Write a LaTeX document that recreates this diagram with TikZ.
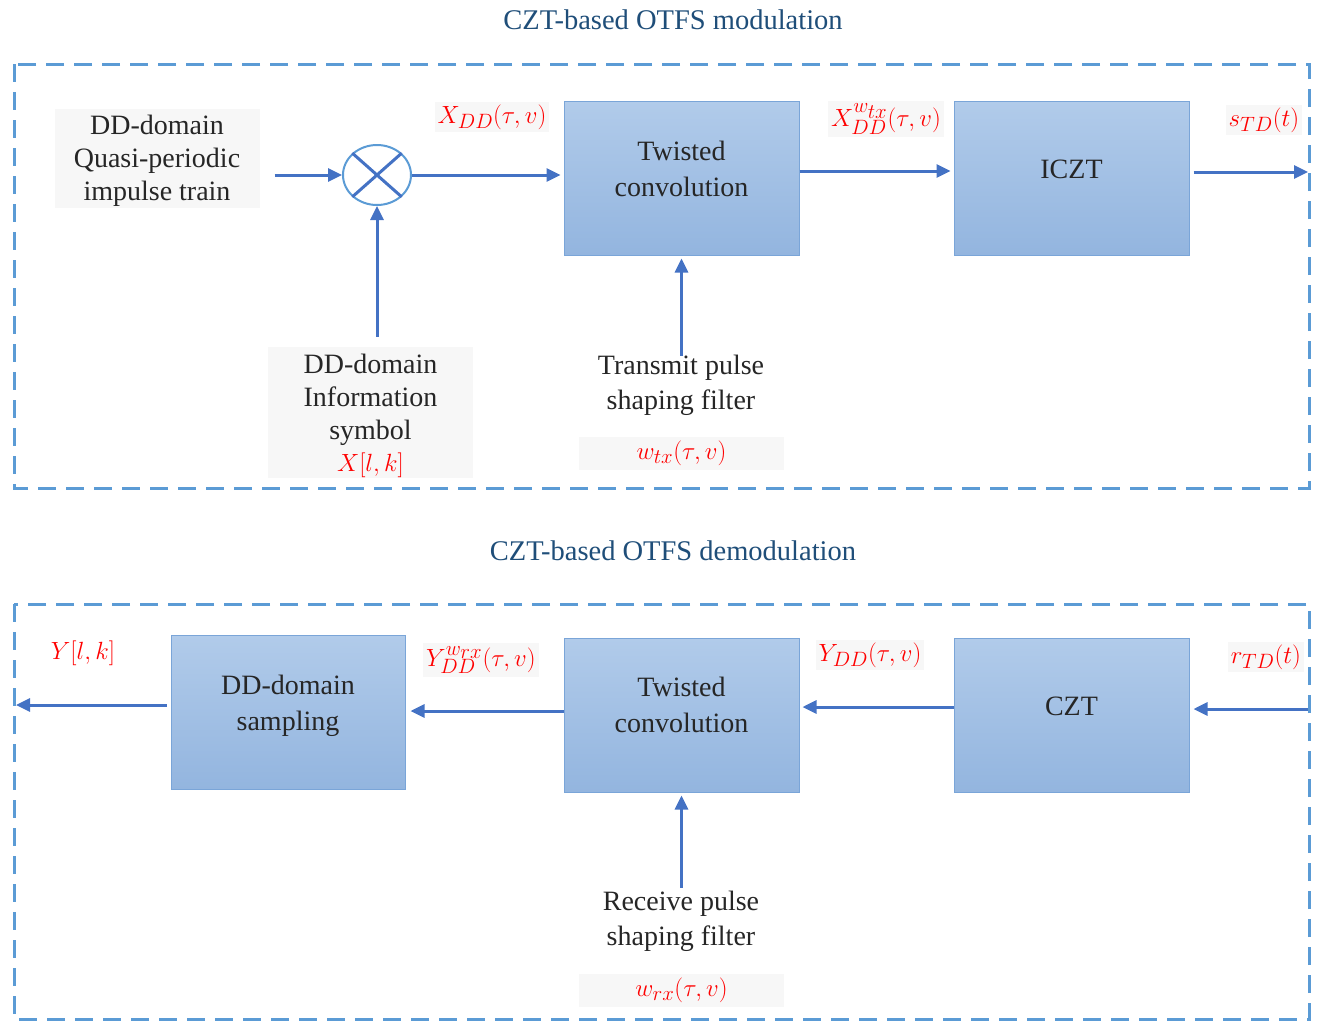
\documentclass[tikz,border=0pt]{standalone}
\usepackage{fontspec}
\setmainfont{Liberation Serif}
\newfontfamily\tnr{Liberation Serif}
\usetikzlibrary{arrows.meta,shapes.geometric}
\definecolor{dashblue}{HTML}{5B9BD5}
\definecolor{arrowblue}{HTML}{4472C4}
\definecolor{titleblue}{HTML}{1F4E79}
\definecolor{boxtop}{HTML}{B1CBEA}
\definecolor{boxbot}{HTML}{93B5DF}
\definecolor{boxline}{HTML}{7AA5D8}
\definecolor{softgray}{HTML}{F7F7F7}
\definecolor{lblred}{HTML}{FF0000}
\definecolor{txtdark}{HTML}{262626}
\begin{document}
\begin{tikzpicture}[x=1pt,y=-1pt,
  font=\tnr\fontsize{28}{33}\selectfont,
  blockbox/.style={draw=boxline, line width=1pt, top color=boxtop, bottom color=boxbot,
    minimum width=235pt, minimum height=154pt, inner sep=0pt},
  blocktext/.style={inner sep=0pt, align=center, text=txtdark, font=\tnr\fontsize{28}{36}\selectfont},
  graybox/.style={fill=softgray, inner sep=0pt, align=center, text=txtdark},
  plaintext/.style={inner sep=0pt, align=center, text=txtdark, font=\tnr\fontsize{28}{35}\selectfont},
  lbl/.style={fill=softgray, inner sep=3pt, text=lblred, font=\tnr\fontsize{30}{33}\selectfont},
  conn/.style={draw=arrowblue, line width=3pt, -{Triangle[length=14pt,width=13pt]}},
  frame/.style={draw=dashblue, line width=3pt, dash pattern=on 18pt off 10pt},
  ttl/.style={text=titleblue, font=\tnr\fontsize{28.5}{30}\selectfont}]
\useasboundingbox (0,0) rectangle (1323,1021);

% ---------- modulation ----------
\node[ttl] (t1) at (673,20) {CZT-based OTFS modulation};
\draw[frame] (14,64) rectangle (1309,488);

\node[graybox, minimum width=205pt, minimum height=99pt] (qp) at (157,158) {};
\node[graybox, fill=none] (qpt) at (157,161) {DD-domain\\Quasi-periodic\\impulse train};
\node[ellipse, draw=dashblue, line width=2pt, minimum width=68pt, minimum height=60pt, inner sep=0pt] (mult) at (377,175) {};
\draw[arrowblue, line width=3pt] (mult.north west) -- (mult.south east);
\draw[arrowblue, line width=3pt] (mult.north east) -- (mult.south west);

\node[blockbox] (tc1) at (681.5,178) {};
\node[blocktext] (tc1t) at (681.5,169) {Twisted\\convolution};
\node[blockbox] (iczt) at (1071.5,178) {};
\node[blocktext] (icztt) at (1071.5,169) {ICZT};

\node[graybox, minimum width=205pt, minimum height=131pt] (info) at (370.5,412.5) {};
\node[graybox, fill=none] (infot) at (370.5,416)
  {DD-domain\\Information\\symbol\\[-1pt]\textcolor{lblred}{\fontsize{30}{33}\selectfont$X[l,k]$}};
\node[plaintext] (tx) at (681,385) {Transmit pulse\\shaping filter};
\node[graybox, minimum width=205pt, minimum height=33pt, text=lblred, font=\tnr\fontsize{30}{33}\selectfont] (wtx) at (681.5,453.5) {$w_{tx}(\tau,v)$};

\coordinate (outR) at (1308,172);

\draw[conn] ([xshift=15pt]qp.east |- mult.west) -- (mult.west);
\draw[conn, shorten >=3pt] (mult.east) -- (mult.east -| tc1.west);
\draw[conn] ([yshift=10pt]mult.south |- info.north) -- (mult.south);
\draw[conn, shorten >=3pt] ([yshift=-1pt]tc1.south |- tx.north) -- (tc1.south);
\draw[conn, shorten >=3pt] ([yshift=7pt]tc1.east) -- ([yshift=7pt]iczt.west);
\draw[conn, shorten <=4pt] ([yshift=6pt]iczt.east) -- (outR);

\node[lbl] (l1) at (492,117) {$X_{DD}(\tau,v)$};
\node[lbl] (l2) at (886,119) {$X_{DD}^{w_{\scriptstyle tx}}(\tau,v)$};
\node[lbl] (l3) at (1264,120) {$s_{TD}(t)$};

% ---------- demodulation ----------
\node[ttl] (t2) at (673,551) {CZT-based OTFS demodulation};
\draw[frame] (14,604) rectangle (1309,1019);

\node[blockbox, minimum width=234pt] (samp) at (288,712) {};
\node[blocktext] (sampt) at (288,706) {DD-domain\\sampling};
\node[blockbox] (tc2) at (681.5,715) {};
\node[blocktext] (tc2t) at (681.5,705) {Twisted\\convolution};
\node[blockbox] (czt) at (1071.5,715) {};
\node[blocktext] (cztt) at (1071.5,706) {CZT};

\node[plaintext] (rx) at (681,921) {Receive pulse\\shaping filter};
\node[graybox, minimum width=205pt, minimum height=33pt, text=lblred, font=\tnr\fontsize{30}{33}\selectfont] (wrx) at (681.5,990.5) {$w_{rx}(\tau,v)$};

\coordinate (inR) at (1308,709);
\coordinate (outL) at (16,705);

\draw[conn, shorten >=4pt] (inR) -- (inR -| czt.east);
\draw[conn, shorten >=3pt] ([yshift=8pt]czt.west) -- ([yshift=8pt]tc2.west -| tc2.east);
\draw[conn, shorten >=5pt] ([yshift=4pt]tc2.west) -- ([yshift=4pt]tc2.west -| samp.east);
\draw[conn, shorten <=4pt] ([yshift=7pt]samp.west) -- (outL);
\draw[conn, shorten >=3pt] ([yshift=3pt]tc2.south |- rx.north) -- (tc2.south);

\node[inner sep=3pt, text=lblred, font=\tnr\fontsize{30}{33}\selectfont] (l4) at (83,653) {$Y[l,k]$};
\node[lbl] (l5) at (481,660) {$Y_{DD}^{w_{\scriptstyle rx}}(\tau,v)$};
\node[lbl] (l6) at (870,655) {$Y_{DD}(\tau,v)$};
\node[lbl] (l7) at (1266,657) {$r_{TD}(t)$};
\end{tikzpicture}
\end{document}
